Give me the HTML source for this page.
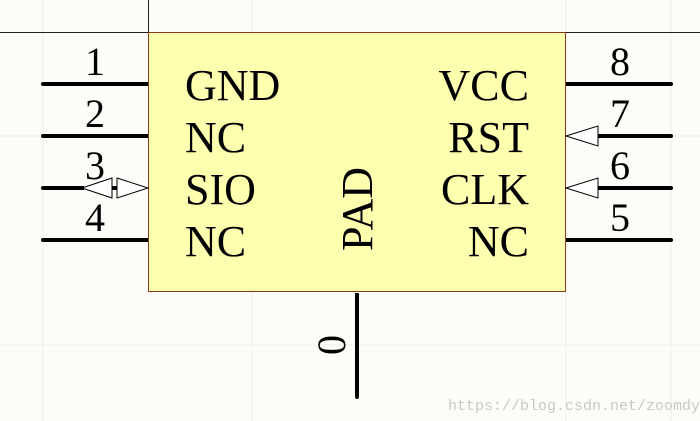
<!DOCTYPE html>
<html><head><meta charset="utf-8"><style>
html,body{margin:0;padding:0;background:#fdfcf8;}
svg{display:block}
</style></head><body>
<svg width="700" height="421" viewBox="0 0 700 421" xmlns="http://www.w3.org/2000/svg">
<rect width="700" height="421" fill="#fdfcf8"/>
<g stroke="#eeeee8" stroke-width="1">
<line x1="43" y1="0" x2="43" y2="421"/><line x1="252" y1="0" x2="252" y2="421"/><line x1="566" y1="0" x2="566" y2="421"/><line x1="671" y1="0" x2="671" y2="421"/>
<line x1="0" y1="136" x2="700" y2="136"/><line x1="0" y1="345" x2="700" y2="345"/>
</g>
<line x1="0" y1="32.5" x2="700" y2="32.5" stroke="#222" stroke-width="1"/>
<line x1="148.5" y1="0" x2="148.5" y2="32" stroke="#222" stroke-width="1"/>
<rect x="148.5" y="32.5" width="417" height="259" fill="#ffffb0" stroke="#8a3a1a" stroke-width="1"/>
<g stroke="#000" stroke-width="4">
<line x1="44" y1="84" x2="148" y2="84"/><line x1="44" y1="136" x2="148" y2="136"/><line x1="44" y1="188" x2="84" y2="188"/><line x1="44" y1="240" x2="148" y2="240"/>
<line x1="566" y1="84" x2="670" y2="84"/><line x1="598" y1="136" x2="670" y2="136"/><line x1="598" y1="188" x2="670" y2="188"/><line x1="566" y1="240" x2="670" y2="240"/>
<line x1="357" y1="293" x2="357" y2="396"/>
</g>
<g fill="#000">
<circle cx="43" cy="84" r="2"/><circle cx="43" cy="136" r="2"/><circle cx="43" cy="188" r="2"/><circle cx="43" cy="240" r="2"/>
<circle cx="671" cy="84" r="2"/><circle cx="671" cy="136" r="2"/><circle cx="671" cy="188" r="2"/><circle cx="671" cy="240" r="2"/>
<circle cx="357" cy="397" r="2"/>
<rect x="112" y="186" width="6" height="4"/>
</g>
<g fill="#fff" stroke="#000" stroke-width="1">
<polygon points="82,188 112,178 112,198"/>
<polygon points="117,178 148,188 117,198"/>
<polygon points="566,136 598,126 598,146"/>
<polygon points="566,188 598,178 598,198"/>
</g>
<g font-family="Liberation Serif, serif" font-size="40" fill="#000" text-anchor="middle">
<text x="95" y="75">1</text><text x="95" y="127">2</text><text x="95" y="179">3</text><text x="95" y="231">4</text>
<text x="620" y="75">8</text><text x="620" y="127">7</text><text x="620" y="179">6</text><text x="620" y="231">5</text>
<text transform="translate(345,345) rotate(-90)">0</text>
</g>
<g font-family="Liberation Serif, serif" font-size="44" fill="#000">
<text x="185" y="100">GND</text><text x="185" y="152">NC</text><text x="185" y="204">SIO</text><text x="185" y="256">NC</text>
<g text-anchor="end"><text x="529" y="100">VCC</text><text x="529" y="152">RST</text><text x="529" y="204">CLK</text><text x="529" y="256">NC</text></g>
<text transform="translate(372,209) rotate(-90)" text-anchor="middle">PAD</text>
</g>
<text x="448" y="410" font-family="Liberation Mono, monospace" font-size="15" fill="#c8c8c8">https://blog.csdn.net/zoomdy</text>
</svg>
</body></html>
